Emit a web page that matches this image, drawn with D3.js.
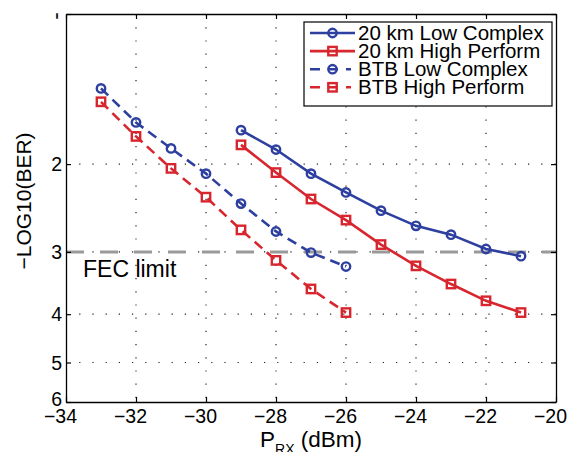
<!DOCTYPE html>
<html>
<head>
<meta charset="utf-8">
<script src="https://cdn.jsdelivr.net/npm/d3@7"></script>
<style>
  body { margin: 0; background: #fff; }
  text { font-family: "Liberation Sans", Arial, Helvetica, sans-serif; fill: #000; }
</style>
</head>
<body>
<svg id="chart"></svg>
<script>
// received power, dBm
const pBtb = [-33, -32, -31, -30, -29, -28, -27, -26];
const p20km = [-29, -28, -27, -26, -25, -24, -23, -22, -21];

// -log10(BER)
const btbLow = [1.41, 1.65, 1.86, 2.09, 2.40, 2.73, 3.01, 3.21];
const btbHigh = [1.50, 1.76, 2.04, 2.33, 2.71, 3.12, 3.56, 3.97];
const km20Low = [1.71, 1.87, 2.09, 2.28, 2.48, 2.66, 2.77, 2.96, 3.06];
const km20High = [1.83, 2.08, 2.35, 2.59, 2.90, 3.20, 3.48, 3.76, 3.97];

const xTicks = [-34, -32, -30, -28, -26, -24, -22, -20];
const yTicks = [1, 2, 3, 4, 5, 6];
const fecLimit = 3;

const series = [
  { name: "20 km Low Complex", x: p20km, y: km20Low, color: "#2d3f9f", dash: null, marker: "circle" },
  { name: "20 km High Perform", x: p20km, y: km20High, color: "#d8262e", dash: null, marker: "square" },
  { name: "BTB Low Complex", x: pBtb, y: btbLow, color: "#2d3f9f", dash: "10,6", marker: "circle" },
  { name: "BTB High Perform", x: pBtb, y: btbHigh, color: "#d8262e", dash: "10,6", marker: "square" }
];

const config = {
  width: 570,
  height: 452,
  margin: { top: 14, right: 14, bottom: 50, left: 66 },
  get usableWidth() {
    return this.width - this.margin.left - this.margin.right;
  },
  get usableHeight() {
    return this.height - this.margin.top - this.margin.bottom;
  }
};

const svg = d3.select("#chart").attr("width", config.width).attr("height", config.height);

const g = svg.append("g")
  .attr("transform", `translate(${config.margin.left},${config.margin.top})`);

const x = d3.scaleLinear().domain([-34, -20]).range([0, config.usableWidth]);
// BER-style axis: log of -log10(BER)
const y = d3.scaleLog().domain([1, 6]).range([0, config.usableHeight]);

// dotted grid
const grid = g.append("g").attr("class", "grid")
  .attr("stroke", "#222").attr("stroke-width", 1.2).attr("stroke-dasharray", "1.2,12");
grid.selectAll("line.v")
  .data(xTicks.slice(1, -1))
  .enter().append("line")
  .attr("x1", d => x(d)).attr("x2", d => x(d))
  .attr("y1", 0).attr("y2", config.usableHeight);
grid.selectAll("line.h")
  .data(yTicks.slice(1, -1))
  .enter().append("line")
  .attr("x1", 0).attr("x2", config.usableWidth)
  .attr("y1", d => y(d)).attr("y2", d => y(d));

// FEC threshold
g.append("line")
  .attr("x1", 0).attr("x2", config.usableWidth)
  .attr("y1", y(fecLimit)).attr("y2", y(fecLimit))
  .attr("stroke", "#9a9a9a").attr("stroke-width", 3)
  .attr("stroke-dasharray", "18,16");

g.append("text")
  .attr("x", 17).attr("y", y(fecLimit) + 25.5)
  .attr("font-size", 23)
  .text("FEC limit");

// axes (ticks inside, box on)
const tickLen = 5;
const xAxis = d3.axisBottom(x).tickValues(xTicks).tickSizeInner(-tickLen).tickSizeOuter(0)
  .tickFormat(d => d3.format("d")(d).replace("-", "\u2212")).tickPadding(8);
const yAxis = d3.axisLeft(y).tickValues(yTicks).tickSizeInner(-tickLen).tickSizeOuter(0)
  .tickFormat(d3.format("d")).tickPadding(4);

const gx = g.append("g")
  .attr("transform", `translate(0,${config.usableHeight})`)
  .call(xAxis);
const gy = g.append("g").call(yAxis);

g.append("g").call(d3.axisTop(x).tickValues(xTicks).tickSizeInner(-tickLen).tickSizeOuter(0).tickFormat(""));
g.append("g").attr("transform", `translate(${config.usableWidth},0)`)
  .call(d3.axisRight(y).tickValues(yTicks).tickSizeInner(-tickLen).tickSizeOuter(0).tickFormat(""));

g.selectAll(".domain").attr("stroke", "#000").attr("stroke-width", 1.3);
g.selectAll(".tick line").attr("stroke", "#000").attr("stroke-width", 1.2);
gx.selectAll(".tick text").attr("font-size", 19.5).attr("fill", "#000")
  .attr("x", -6).attr("y", 7).attr("dy", "0.71em")
  .style("font-family", "'Liberation Sans', Arial, sans-serif");
gy.selectAll(".tick text").attr("font-size", 19.5).attr("fill", "#000")
  .style("font-family", "'Liberation Sans', Arial, sans-serif")
  .attr("dy", d => (d === 6 ? "0.17em" : "0.34em"));

// label "1" is cut off at the top of the picture in the original
svg.append("clipPath").attr("id", "topclip")
  .append("rect").attr("x", -100).attr("y", -1.2).attr("width", 200).attr("height", 5.5);
gy.selectAll(".tick").filter(d => d === 1).select("text")
  .attr("clip-path", "url(#topclip)");

// lines + markers
const line = d3.line().x(d => x(d[0])).y(d => y(d[1]));

const drawMarker = (sel, s) => {
  if (s.marker === "circle") {
    sel.append("circle").attr("r", 4.2);
  } else {
    sel.append("rect").attr("x", -4.2).attr("y", -4.2).attr("width", 8.4).attr("height", 8.4);
  }
  sel.selectAll("circle, rect")
    .attr("fill", "none").attr("stroke", s.color).attr("stroke-width", 2.4);
};

series.forEach(s => {
  const pts = s.x.map((v, i) => [v, s.y[i]]);
  const sg = g.append("g");
  sg.append("path")
    .datum(pts)
    .attr("d", line)
    .attr("fill", "none")
    .attr("stroke", s.color)
    .attr("stroke-width", 2.6)
    .attr("stroke-dasharray", s.dash);
  sg.selectAll("g.pt")
    .data(pts)
    .enter().append("g")
    .attr("transform", d => `translate(${x(d[0])},${y(d[1])})`)
    .each(function() { drawMarker(d3.select(this), s); });
});

// legend
const legend = svg.append("g").attr("transform", "translate(304,22)");
legend.append("rect")
  .attr("width", 248).attr("height", 84)
  .attr("fill", "#fff").attr("stroke", "#000").attr("stroke-width", 1.2);

const rowH = 18.1;
const item = legend.selectAll("g.item")
  .data(series)
  .enter().append("g")
  .attr("transform", (d, i) => `translate(0,${11 + i * rowH})`);

item.append("line")
  .attr("x1", 6)
  .attr("stroke", d => d.color).attr("stroke-width", 2.6)
  .attr("stroke-dasharray", d => (d.dash ? "10,8" : null))
  .attr("x2", d => (d.dash ? 47 : 51));
item.append("g")
  .attr("transform", "translate(28.5,0)")
  .each(function(d) { drawMarker(d3.select(this), d); });
item.append("text")
  .attr("x", 54).attr("dy", "0.35em")
  .attr("font-size", 20.5)
  .text(d => d.name);

// axis titles
svg.append("text")
  .attr("transform", `translate(31,${config.margin.top + config.usableHeight / 2 - 7}) rotate(-90)`)
  .attr("text-anchor", "middle")
  .attr("font-size", 21)
  .text("\u2212LOG10(BER)");

const xl = svg.append("text")
  .attr("x", config.margin.left + config.usableWidth / 2)
  .attr("y", 447)
  .attr("text-anchor", "middle")
  .attr("font-size", 22.5);
xl.append("tspan").text("P");
xl.append("tspan").attr("font-size", 14).attr("dy", 7).text("RX");
xl.append("tspan").attr("dy", -7).text(" (dBm)");
</script>
</body>
</html>
